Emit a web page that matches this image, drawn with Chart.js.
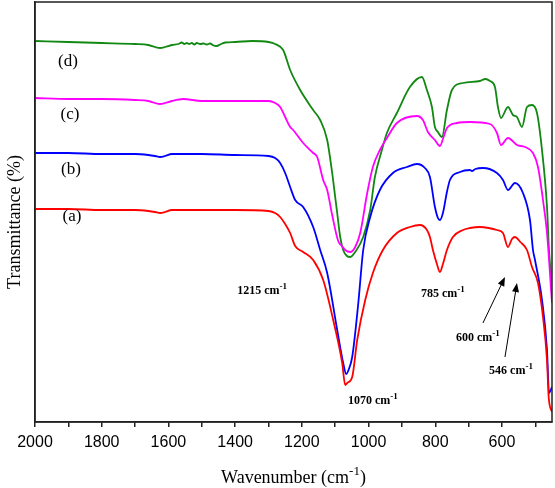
<!DOCTYPE html>
<html>
<head>
<meta charset="utf-8">
<script src="https://cdn.jsdelivr.net/npm/chart.js@4.4.1/dist/chart.umd.min.js"></script>
<style>
  body { margin: 0; background: #fff; }
  canvas { display: block; }
</style>
</head>
<body>
<canvas id="ftirChart" width="555" height="488"></canvas>
<script>
// wavenumbers (cm-1) and transmittance (arbitrary units)
const waveA = [2000,1900,1800,1700,1660,1640,1625,1610,1590,1500,1400,1300,1280,1265,1250,1235,1220,1196,1166,1136,1106,1079,1070,1064,1049,1034,1010,987,957,915,876,846,825,816,807,795,786,777,765,747,717,696,666,640,615,597,582,570,561,545,525,510,492,477,465,460,450];
const transA = [213,213,212,212,211,210,209,210,212,212,212,211,209,205,198,189,176,170,162,142,102,59,37,39,45,82,122,149,172,189,195,197,192,185,172,158,150,158,172,185,192,194,195,194,192,189,175,183,185,180,172,155,139,105,62,25,10];

const waveB = [2000,1900,1800,1700,1660,1640,1625,1610,1590,1500,1400,1300,1280,1265,1250,1235,1220,1196,1166,1145,1124,1094,1076,1067,1060,1049,1031,1016,995,966,927,885,855,831,816,801,792,786,777,765,756,726,696,690,680,657,615,597,582,561,537,516,507,501,480,465,459,450];
const transB = [269,269,268,268,267,266,265,266,268,268,267,266,264,259,249,235,222,215,195,172,149,92,59,48,52,65,118,172,205,232,249,255,258,254,245,215,204,202,209,230,242,250,252,251,253,254,249,242,232,239,229,202,172,162,122,72,29,35];

const waveC = [2000,1900,1800,1700,1660,1640,1625,1610,1590,1556,1500,1400,1300,1280,1265,1250,1235,1226,1196,1166,1154,1136,1124,1109,1091,1080,1070,1055,1040,1025,1004,987,966,945,915,855,837,822,801,786,775,765,735,696,636,615,603,582,555,531,507,492,477,465,450];
const transC = [324,323,323,322,321,319,318,319,321,323,321,321,321,319,315,305,295,292,279,269,265,242,232,207,181,176,172,170,175,189,229,255,272,284,299,306,302,290,282,276,285,294,299,300,298,289,277,284,277,275,269,255,222,189,119];

const waveD = [2000,1900,1800,1700,1660,1640,1625,1610,1590,1570,1560,1552,1545,1538,1530,1522,1515,1505,1495,1485,1475,1465,1455,1445,1430,1400,1350,1300,1280,1256,1235,1205,1166,1145,1124,1109,1100,1094,1085,1076,1065,1055,1040,1016,995,981,960,945,915,876,840,825,810,801,792,780,765,750,717,666,650,636,621,612,603,582,567,555,540,525,510,495,480,465,459,450];
const transD = [381,380,379,378,377,375,374,375,377,378,379.5,378,379,378,379,377.5,379,378,378.5,377.5,378.5,376.5,376,377.5,379.5,380,381,380,378,372,352,332,312,302,282,249,225,209,185,172,166,165,170,185,212,245,272,289,309,335,345,332,315,295,290,285,312,332,339,341,343,341,335,315,304,315,307,305,295,315,317,309,272,215,172,135];

const seriesNames = ['(a)', '(b)', '(c)', '(d)'];
const seriesColors = ['#ff0000', '#0000ff', '#ff00ff', '#118811'];
const xTickValues = [2000,1900,1800,1700,1600,1500,1400,1300,1200,1100,1000,900,800,700,600,500];

// text labels placed in data coordinates [wavenumber, height]
const seriesLabelPos = [[1889,205],[1892,252],[1895,307],[1901,360]];
const peakLabels = [
    { text: '1215 cm', at: [1319,128] },
    { text: '1070 cm', at: [987,18] },
    { text: '785 cm', at: [777,125] },
    { text: '600 cm', at: [672,81] },
    { text: '546 cm', at: [573,48] }
];
const arrows = [
    { from: [657,99], to: [591,145] },
    { from: [591,65], to: [555,139] }
];

function toPoints(w, t) {
    return w.map((x, i) => ({ x: x, y: t[i] }));
}

// text with a "-1" superscript, centred on x, y = baseline
function drawSupText(ctx, base, tail, x, y, size, bold) {
    const weight = bold ? 'bold ' : '';
    const f1 = weight + size + 'px "Liberation Serif"';
    const f2 = weight + Math.round(size * 0.72) + 'px "Liberation Serif"';
    const sup = '-1';
    ctx.font = f1;
    const w1 = ctx.measureText(base).width;
    const w3 = tail ? ctx.measureText(tail).width : 0;
    ctx.font = f2;
    const w2 = ctx.measureText(sup).width;
    let cx = x - (w1 + w2 + w3) / 2;
    ctx.textAlign = 'left';
    ctx.textBaseline = 'alphabetic';
    ctx.font = f1;
    ctx.fillText(base, cx, y);
    cx += w1;
    ctx.font = f2;
    ctx.fillText(sup, cx, y - size * 0.45);
    cx += w2;
    if (tail) {
        ctx.font = f1;
        ctx.fillText(tail, cx, y);
    }
}

const decorations = {
    id: 'decorations',
    afterDraw(chart) {
        const ctx = chart.ctx;
        const area = chart.chartArea;
        const xs = chart.scales.x;
        const ys = chart.scales.y;
        const px = v => xs.getPixelForValue(v);
        const py = v => ys.getPixelForValue(v);
        ctx.save();

        // box frame
        ctx.strokeStyle = '#222';
        ctx.lineWidth = 1.5;
        ctx.strokeRect(area.left, area.top, area.right - area.left, area.bottom - area.top);

        ctx.fillStyle = '#000';
        // series labels
        ctx.font = '17px "Liberation Serif"';
        ctx.textAlign = 'center';
        ctx.textBaseline = 'middle';
        seriesLabelPos.forEach((p, i) => {
            ctx.fillText(seriesNames[i], px(p[0]), py(p[1]));
        });

        // peak annotations
        peakLabels.forEach(l => {
            drawSupText(ctx, l.text, '', px(l.at[0]), py(l.at[1]), 12, true);
        });

        // arrows
        ctx.strokeStyle = '#000';
        ctx.lineWidth = 1;
        arrows.forEach(a => {
            const x1 = px(a.from[0]), y1 = py(a.from[1]);
            const x2 = px(a.to[0]), y2 = py(a.to[1]);
            const ang = Math.atan2(y2 - y1, x2 - x1);
            ctx.beginPath();
            ctx.moveTo(x1, y1);
            ctx.lineTo(x2 - 6 * Math.cos(ang), y2 - 6 * Math.sin(ang));
            ctx.stroke();
            ctx.beginPath();
            ctx.moveTo(x2, y2);
            ctx.lineTo(x2 - 9 * Math.cos(ang) + 3.5 * Math.sin(ang), y2 - 9 * Math.sin(ang) - 3.5 * Math.cos(ang));
            ctx.lineTo(x2 - 9 * Math.cos(ang) - 3.5 * Math.sin(ang), y2 - 9 * Math.sin(ang) + 3.5 * Math.cos(ang));
            ctx.closePath();
            ctx.fill();
        });

        // axis titles
        drawSupText(ctx, 'Wavenumber (cm', ')', (area.left + area.right) / 2, 483, 18, false);
        ctx.save();
        ctx.translate(15, (area.top + area.bottom) / 2 + 10);
        ctx.rotate(-Math.PI / 2);
        ctx.font = '18px "Liberation Serif"';
        ctx.textAlign = 'center';
        ctx.textBaseline = 'middle';
        ctx.fillText('Transmittance (%)', 0, 0);
        ctx.restore();

        ctx.restore();
    }
};

const ctx = document.getElementById('ftirChart').getContext('2d');
const ftirChart = new Chart(ctx, {
    type: 'line',
    data: {
        datasets: [
            { label: seriesNames[0], data: toPoints(waveA, transA), borderColor: seriesColors[0] },
            { label: seriesNames[1], data: toPoints(waveB, transB), borderColor: seriesColors[1] },
            { label: seriesNames[2], data: toPoints(waveC, transC), borderColor: seriesColors[2] },
            { label: seriesNames[3], data: toPoints(waveD, transD), borderColor: seriesColors[3] }
        ]
    },
    options: {
        responsive: false,
        animation: false,
        layout: { padding: { left: 0, right: 3, top: 2, bottom: 0 } },
        elements: {
            point: { radius: 0 },
            line: { borderWidth: 1.8, fill: false, cubicInterpolationMode: 'monotone' }
        },
        plugins: {
            legend: { display: false },
            tooltip: { enabled: false }
        },
        scales: {
            x: {
                type: 'linear',
                reverse: true,
                min: 450,
                max: 2000,
                afterBuildTicks: scale => {
                    scale.ticks = xTickValues.map(v => ({ value: v }));
                },
                afterFit: scale => { scale.height = 66; },
                ticks: {
                    autoSkip: false,
                    maxRotation: 0,
                    padding: 6,
                    color: '#000',
                    font: { family: '"Liberation Sans"', size: 16 },
                    callback: v => (v % 200 === 0 ? String(v) : '')
                },
                grid: { drawOnChartArea: false, drawTicks: true, tickLength: 5, color: '#222', lineWidth: 1.5 },
                border: { display: true, color: '#222', width: 1.5 }
            },
            y: {
                min: 0,
                max: 420,
                afterFit: scale => { scale.width = 35; },
                ticks: { display: false },
                grid: { display: false },
                border: { display: true, color: '#222', width: 1.5 }
            }
        }
    },
    plugins: [decorations]
});
</script>
</body>
</html>
